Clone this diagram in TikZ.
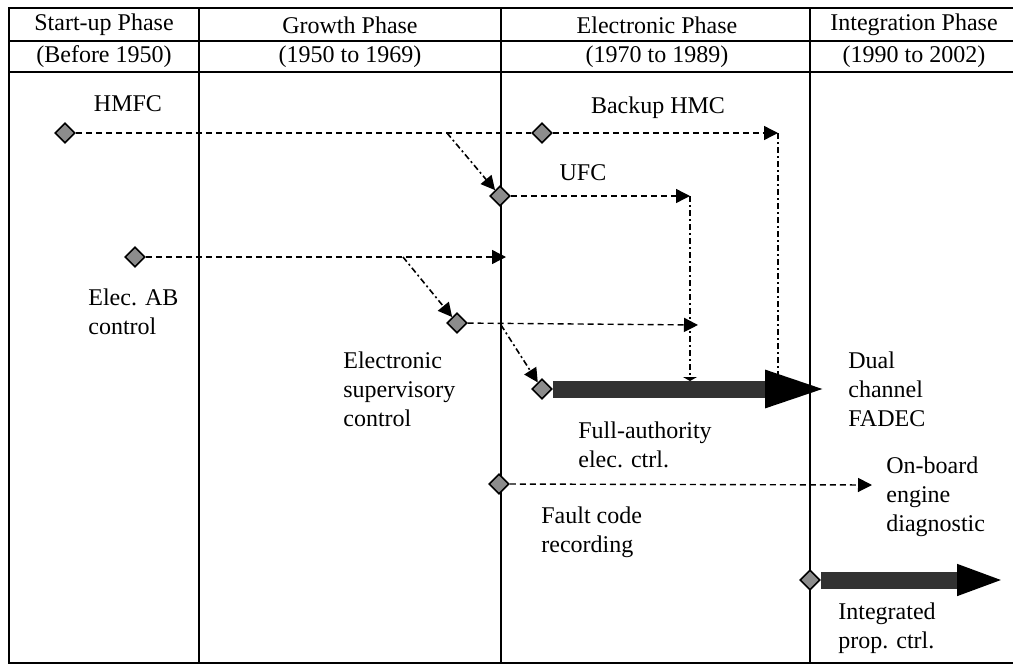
\documentclass[tikz,border=0pt]{standalone}
\usepackage{fontspec}
\setmainfont{Liberation Serif}
\usepackage{tikz}
\usetikzlibrary{shapes.geometric, arrows.meta, positioning, calc}
\definecolor{eventgray}{RGB}{140, 140, 140}
\definecolor{shaftgray}{RGB}{50, 50, 50}
\tikzstyle{gridline} = [draw, line width=0.9pt, black]
\tikzstyle{phasehead} = [inner sep=0pt, anchor=center, font=\fontsize{12}{14.5}\selectfont]
\tikzstyle{tag} = [inner sep=0pt, anchor=west, align=left, font=\fontsize{12}{14.5}\selectfont]
\tikzstyle{event} = [diamond, draw=black, fill=eventgray, line width=0.8pt, minimum width=10pt, minimum height=10pt, inner sep=0pt]
\tikzstyle{trend} = [draw, -{Triangle[length=7pt, width=7pt]}, dash pattern=on 3pt off 2pt, line width=0.7pt]
\tikzstyle{branch} = [draw, -{Triangle[length=7pt, width=7pt]}, dash pattern=on 3pt off 1.5pt on 1pt off 1.5pt, line width=0.8pt]
\tikzstyle{drop} = [draw, dash pattern=on 3pt off 1.5pt on 1pt off 1.5pt, line width=0.8pt]
\tikzstyle{bigarrow} = [draw=shaftgray, line width=8.5pt, -{Triangle[length=34pt, width=16pt, color=black]}]

\begin{document}
\begin{tikzpicture}[x=0.5pt, y=-0.5pt]
    \useasboundingbox (0,0) rectangle (1013,664);
    % Table
    \draw [gridline] (1013,8) -- (9,8) -- (9,663) -- (1013,663);
    \draw [gridline] (9,41) -- (1013,41);
    \draw [gridline] (9,72) -- (1013,72);
    \foreach \x in {199,501,810}
        \draw [gridline] (\x,8) -- (\x,663);

    % Phases
    \node (startup) [phasehead] at (104,25) {Start-up Phase};
    \node (startupyrs) [phasehead] at (104,57) {(Before 1950)};
    \node (growth) [phasehead] at (350,25) {Growth Phase};
    \node (growthyrs) [phasehead] at (350,57) {(1950 to 1969)};
    \node (electronic) [phasehead] at (657,25) {Electronic Phase};
    \node (electronicyrs) [phasehead] at (657,57) {(1970 to 1989)};
    \node (integration) [phasehead] at (914,25) {Integration Phase};
    \node (integrationyrs) [phasehead] at (914,57) {(1990 to 2002)};

    % Events
    \node (hmfc) [event] at (65,133) {};
    \node (backup) [event] at (542,133) {};
    \node (ufc) [event] at (500,196) {};
    \node (elecab) [event] at (135,257) {};
    \node (esc) [event] at (457,323) {};
    \node (fadec) [event] at (542,389) {};
    \node (fault) [event] at (499,484) {};
    \node (ipc) [event] at (810,580) {};

    % Labels
    \node (hmfctxt) [tag, anchor=center] at (128,104) {HMFC};
    \node (backuptxt) [tag, anchor=center] at (658,108) {Backup HMC};
    \node (ufctxt) [tag, anchor=center] at (583,173) {UFC};
    \node (elecabtxt) [tag] at (88,312) {Elec. AB\\control};
    \node (esctxt) [tag] at (343,389) {Electronic\\supervisory\\control};
    \node (fadectxt) [tag] at (578,445) {Full-authority\\elec. ctrl.};
    \node (dualtxt) [tag] at (848,389) {Dual\\channel\\FADEC};
    \node (faulttxt) [tag] at (541,532) {Fault code\\recording};
    \node (obdtxt) [tag] at (886,497) {On-board\\engine\\diagnostic};
    \node (ipctxt) [tag] at (838,628) {Integrated\\prop. ctrl.};

    \coordinate (fork1) at (447,133);
    \coordinate (fork2) at (403,257);
    \coordinate (fork3) at (501,325);
    \coordinate (bkend) at (778,133);
    \coordinate (bkdrop) at (778,382);
    \coordinate (ufcend) at (690,196);
    \coordinate (ufcdrop) at (690,381);
    \coordinate (abend) at (506,257);
    \coordinate (escend) at (698,325);
    \coordinate (faultend) at (872,485);
    \coordinate (fadecend) at (833,389);
    \coordinate (ipcend) at (1005,580);

    % Paths
    \draw [trend, -] (hmfc) -- (backup);
    \draw [trend] (backup) -- (bkend);
    \draw [drop] (bkend) -- (bkdrop);
    \draw [branch] (fork1) -- (ufc);
    \draw [trend] (ufc) -- (ufcend);
    \draw [drop, -{Triangle[length=2pt, width=7pt]}] (ufcend) -- (ufcdrop);
    \draw [trend] (elecab) -- (abend);
    \draw [branch] (fork2) -- (esc);
    \draw [trend] (esc) -- (escend);
    \draw [branch] (fork3) -- (fadec);
    \draw [bigarrow] (fadec) -- (fadecend);
    \draw [trend] (fault) -- (faultend);
    \draw [bigarrow, -{Triangle[length=24pt, width=14pt, color=black]}] (ipc) -- (ipcend);
\end{tikzpicture}
\end{document}
